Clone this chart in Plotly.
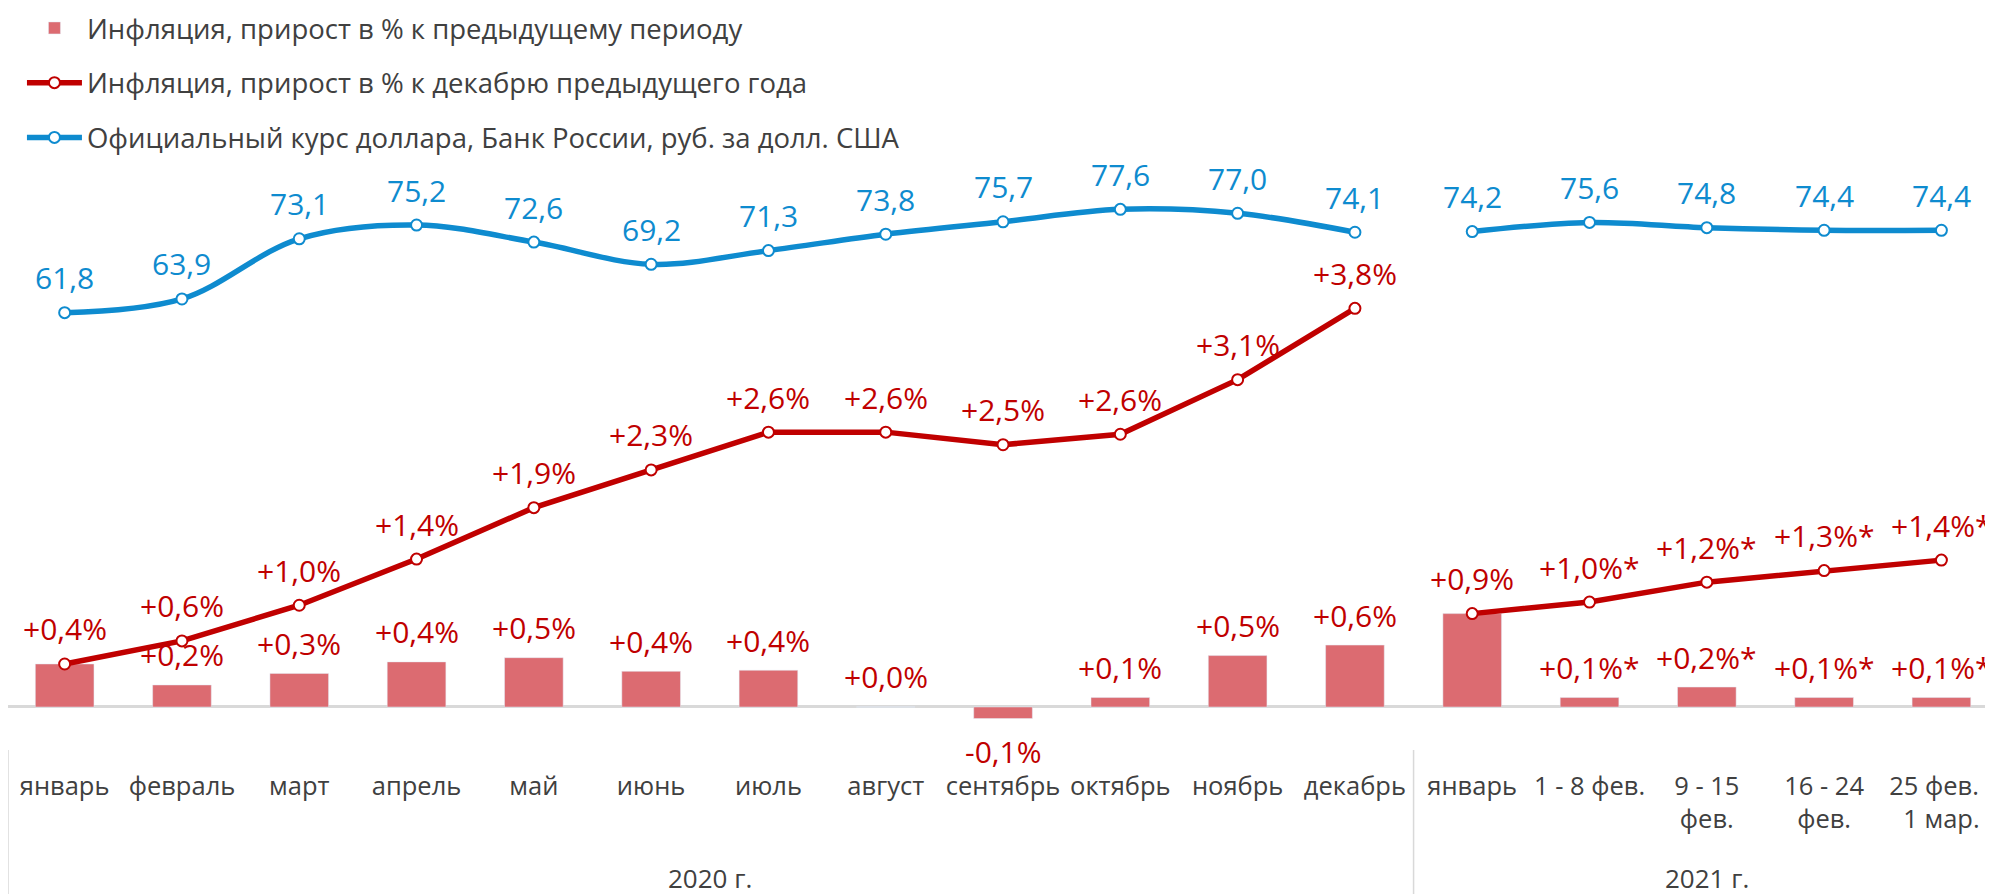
import plotly.graph_objects as go

# categories (x axis)
periods = ["январь", "февраль", "март", "апрель", "май", "июнь", "июль", "август",
           "сентябрь", "октябрь", "ноябрь", "декабрь",
           "январь", "1 - 8 фев.", "9 - 15<br>фев.", "16 - 24<br>фев.", "25 фев. -<br>1 мар."]
years = ["2020 г.", "2021 г."]
year_len = [12, 5]

# inflation, % to previous period (bars)
m_infl = [0.41, 0.21, 0.32, 0.43, 0.47, 0.34, 0.35, 0.0, -0.11, 0.09, 0.49, 0.59,
          0.89, 0.09, 0.19, 0.09, 0.09]
m_text = ["", "+0,2%", "+0,3%", "+0,4%", "+0,5%", "+0,4%", "+0,4%", "+0,0%", "-0,1%", "+0,1%",
          "+0,5%", "+0,6%", "", "+0,1%*", "+0,2%*", "+0,1%*", "+0,1%*"]

# inflation, % to december of previous year (red line)
c_infl = [0.41, 0.63, 0.97, 1.41, 1.90, 2.26, 2.62, 2.62, 2.50, 2.60, 3.12, 3.80,
          0.89, 1.00, 1.19, 1.30, 1.40]
c_text = ["+0,4%", "+0,6%", "+1,0%", "+1,4%", "+1,9%", "+2,3%", "+2,6%", "+2,6%", "+2,5%",
          "+2,6%", "+3,1%", "+3,8%", "+0,9%", "+1,0%*", "+1,2%*", "+1,3%*", "+1,4%*"]

# official USD rate, rub (blue line)
usd = [61.8, 63.9, 73.1, 75.2, 72.6, 69.2, 71.3, 73.8, 75.7, 77.6, 77.0, 74.1,
       74.2, 75.6, 74.8, 74.4, 74.4]

RED = "#C00000"
BLUE = "#0E8BCF"
PINK = "#DC6B71"
GREY = "#404040"
LIGHT = "#D9D9D9"
FONT = "Open Sans"

x = list(range(len(periods)))
n20 = year_len[0]
segments = [(0, n20), (n20, len(x))]

fig = go.Figure()

fig.add_trace(go.Bar(x=x, y=m_infl, width=0.5, marker_color=PINK,
                     name="Инфляция, прирост в % к предыдущему периоду", legendgroup="m"))

for i, (a, b) in enumerate(segments):
    fig.add_trace(go.Scatter(x=x[a:b], y=c_infl[a:b], mode="lines+markers",
                             line=dict(color=RED, width=5.5),
                             marker=dict(size=11, color="white", line=dict(color=RED, width=2)),
                             name="Инфляция, прирост в % к декабрю предыдущего года",
                             legendgroup="c", showlegend=(i == 0)))

for i, (a, b) in enumerate(segments):
    fig.add_trace(go.Scatter(x=x[a:b], y=usd[a:b], mode="lines+markers", yaxis="y2",
                             line=dict(color=BLUE, width=5.5, shape="spline", smoothing=1.0),
                             marker=dict(size=11, color="white", line=dict(color=BLUE, width=2)),
                             name="Официальный курс доллара, Банк России, руб. за долл. США",
                             legendgroup="u", showlegend=(i == 0)))

# data labels
for xi, v, t in zip(x, m_infl, m_text):
    if t:
        fig.add_annotation(x=xi, y=v, text=t, showarrow=False, yshift=30 if v >= 0 else -33,
                           font=dict(family=FONT, size=30, color=RED))
for xi, v, t in zip(x, c_infl, c_text):
    fig.add_annotation(x=xi, y=v, text=t, showarrow=False, yshift=35,
                       font=dict(family=FONT, size=30, color=RED))
for xi, v in zip(x, usd):
    fig.add_annotation(x=xi, y=v, yref="y2", text=f"{v:.1f}".replace(".", ","), showarrow=False,
                       yshift=35, font=dict(family=FONT, size=30, color=BLUE))

# year groups under the axis
fig.add_shape(type="line", xref="paper", yref="paper", x0=0, x1=0, y0=0, y1=-0.22,
              line=dict(color=LIGHT, width=1.5))
start = -0.5
for yl, n in zip(years, year_len):
    if start > 0:
        fig.add_shape(type="line", xref="x", yref="paper", x0=start, x1=start, y0=0, y1=-0.22,
                      line=dict(color=LIGHT, width=1.5))
    fig.add_annotation(x=start + n / 2, y=-0.1725, xref="x", yref="paper", text=yl,
                       xanchor="center", yanchor="middle", showarrow=False,
                       font=dict(family=FONT, size=26, color=GREY))
    start += n

fig.update_layout(
    width=1993, height=894,
    margin=dict(l=0, r=0, t=0, b=152, autoexpand=False),
    paper_bgcolor="white", plot_bgcolor="white",
    font=dict(family=FONT, color=GREY),
    showlegend=True,
    legend=dict(x=0.007, y=1.006, xanchor="left", yanchor="top",
                font=dict(size=27.5, color=GREY),
                tracegroupgap=16, itemwidth=55, bgcolor="rgba(0,0,0,0)"),
    xaxis=dict(range=[-0.483, 16.508], tickvals=x, ticktext=periods, showgrid=False,
               zeroline=False, showline=False, ticks="", tickfont=dict(size=25.5, color=GREY),
               ticklabelstandoff=18, ticklabeloverflow="allow", automargin=False),
    yaxis=dict(range=[-0.41, 6.663], showgrid=False, showticklabels=False, zeroline=True,
               zerolinecolor=LIGHT, zerolinewidth=2.5, automargin=False),
    yaxis2=dict(range=[-5.07, 108.39], overlaying="y", visible=False),
)

fig.write_html("out.html")
